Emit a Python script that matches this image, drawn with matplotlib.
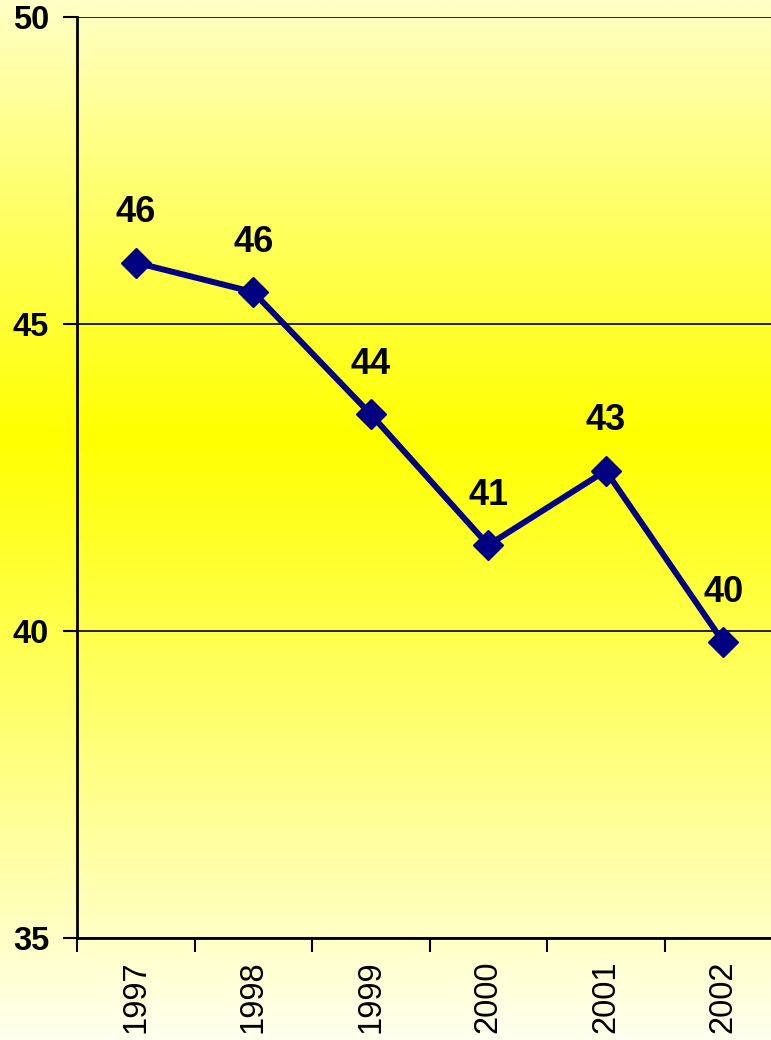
import numpy as np
import matplotlib.pyplot as plt
from matplotlib.colors import LinearSegmentedColormap

years = ["1997", "1998", "1999", "2000", "2001", "2002"]
values = [46.0, 45.52, 43.53, 41.40, 42.61, 39.82]
yticks = [35, 40, 45, 50]

fig = plt.figure(figsize=(7.71, 10.40), dpi=100)

# yellow background gradient over the whole figure
bg = fig.add_axes([0, 0, 1, 1], zorder=-10)
cmap = LinearSegmentedColormap.from_list(
    "bg", [(0.0, "#ffffee"), (0.58, "#ffff00"), (1.0, "#ffffc6")])
bg.imshow(np.linspace(0, 1, 512).reshape(-1, 1), aspect="auto", cmap=cmap,
          origin="lower", extent=[0, 1, 0, 1])
bg.axis("off")

ax = fig.add_axes([77 / 771, 1 - 938 / 1040, 705 / 771, 921 / 1040])
ax.patch.set_alpha(0)

x = np.arange(len(years))
ax.plot(x, values, color="#000080", lw=4.3, marker="D", ms=15, zorder=3,
        clip_on=False)
for xi, v in zip(x, values):
    ax.annotate(f"{v:.0f}", (xi, v), xytext=(0, 36), textcoords="offset points",
                ha="center", va="center", fontsize=26, fontweight="bold",
                family="Liberation Sans")

ax.set_xlim(-0.5, len(years) - 0.5)
ax.set_ylim(35, 50)
ax.set_yticks(yticks)
ax.set_yticklabels([str(t) for t in yticks], fontsize=23.5, fontweight="bold",
                   family="Liberation Sans")
ax.set_xticks(np.arange(-0.5, len(years)), labels=[])
ax.set_xticks(x, labels=years, minor=True)
ax.tick_params(axis="x", which="minor", length=0, pad=16, labelsize=23.5,
               labelrotation=90)
for lab in ax.get_xticklabels(minor=True):
    lab.set_family("Liberation Sans")
ax.tick_params(axis="x", which="major", length=10, width=1.5)
ax.tick_params(axis="y", length=10, width=1.5, pad=10)

ax.grid(axis="y", color="black", lw=1.2)
ax.set_axisbelow(True)
for s in ["top", "right"]:
    ax.spines[s].set_visible(False)
ax.spines["left"].set_linewidth(2)
ax.spines["bottom"].set_linewidth(2)

fig.savefig("out.png", dpi=100)
